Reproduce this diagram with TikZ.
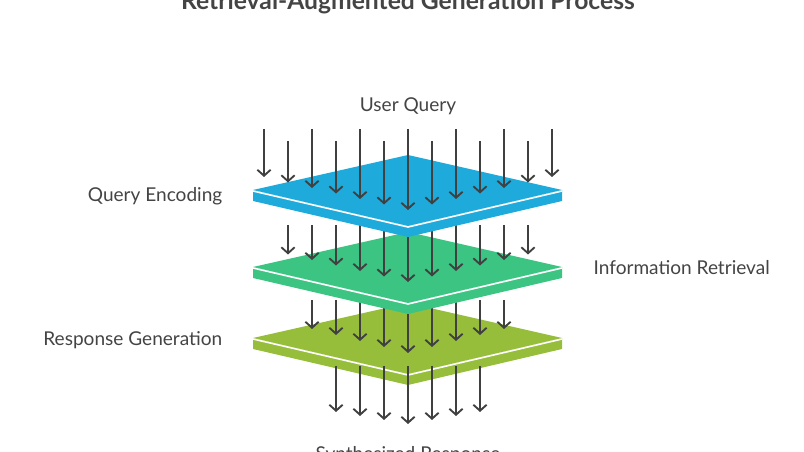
\documentclass[tikz,border=0pt]{standalone}
\usepackage{fontspec}
\setmainfont{Lato}
\usetikzlibrary{arrows.meta}
\definecolor{textgray}{RGB}{68, 68, 68}
\definecolor{arrowgray}{RGB}{64, 64, 64}
\definecolor{encodeblue}{RGB}{31, 170, 220}
\definecolor{retrievegreen}{RGB}{60, 196, 130}
\definecolor{generateolive}{RGB}{150, 190, 58}
\newcommand{\plate}[2]{% color, y of top vertex
  \fill[#1] (253,{#2+35}) -- (408,{#2+71}) -- (562,{#2+35}) -- (562,{#2+46}) -- (408,{#2+82}) -- (253,{#2+46}) -- cycle;
  \fill[#1] (408,#2) -- (562,{#2+35}) -- (408,{#2+71}) -- (253,{#2+35}) -- cycle;
  \draw[white, line width=1.2pt] (253,{#2+36}) -- (408,{#2+72}) -- (562,{#2+36});
}
\begin{document}
\begin{tikzpicture}[
    x=0.75pt, y=-0.75pt,
    label/.style={text=textgray, font=\fontsize{14.3}{16}\selectfont},
    flow/.style={arrowgray, line width=1.4pt, -{Straight Barb[length=4.5pt, width=10pt, line width=1.4pt]}}
  ]
  \useasboundingbox (0,0) rectangle (804,452);

  % Title and labels
  \node[label, font=\fontsize{18.5}{20}\selectfont\bfseries] (title) at (408,3) {Retrieval-Augmented Generation Process};
  \node[label] (query) at (408,106) {User Query};
  \node[label, anchor=east] (encoding) at (227,196) {Query Encoding};
  \node[label, anchor=west] (retrieval) at (589,268) {Information Retrieval};
  \node[label, anchor=east] (generation) at (227,340) {Response Generation};
  \node[label] (response) at (408,455) {Synthesized Response};

  % Bottom layer and its arrows
  \plate{generateolive}{303}
  \foreach \i in {-3,...,3}
    \draw[flow] ({408+24*\i},366) -- ({408+24*\i},{424-4*abs(\i)});
  % Retrieval layer
  \foreach \i in {-4,...,4}
    \draw[flow] ({408+24*\i},300) -- ({408+24*\i},{353-6*abs(\i)});
  \plate{retrievegreen}{232}
  \foreach \i in {-5,...,5}
    \draw[flow] ({408+24*\i},225) -- ({408+24*\i},{282-5.5*abs(\i)});
  % Encoding layer
  \plate{encodeblue}{155}
  \foreach \i in {-6,...,6}{
    \pgfmathsetmacro{\ystart}{isodd(\i) ? 141 : 129}
    \draw[flow] ({408+24*\i},\ystart) -- ({408+24*\i},{210-5.5*abs(\i)});
  }
\end{tikzpicture}
\end{document}
